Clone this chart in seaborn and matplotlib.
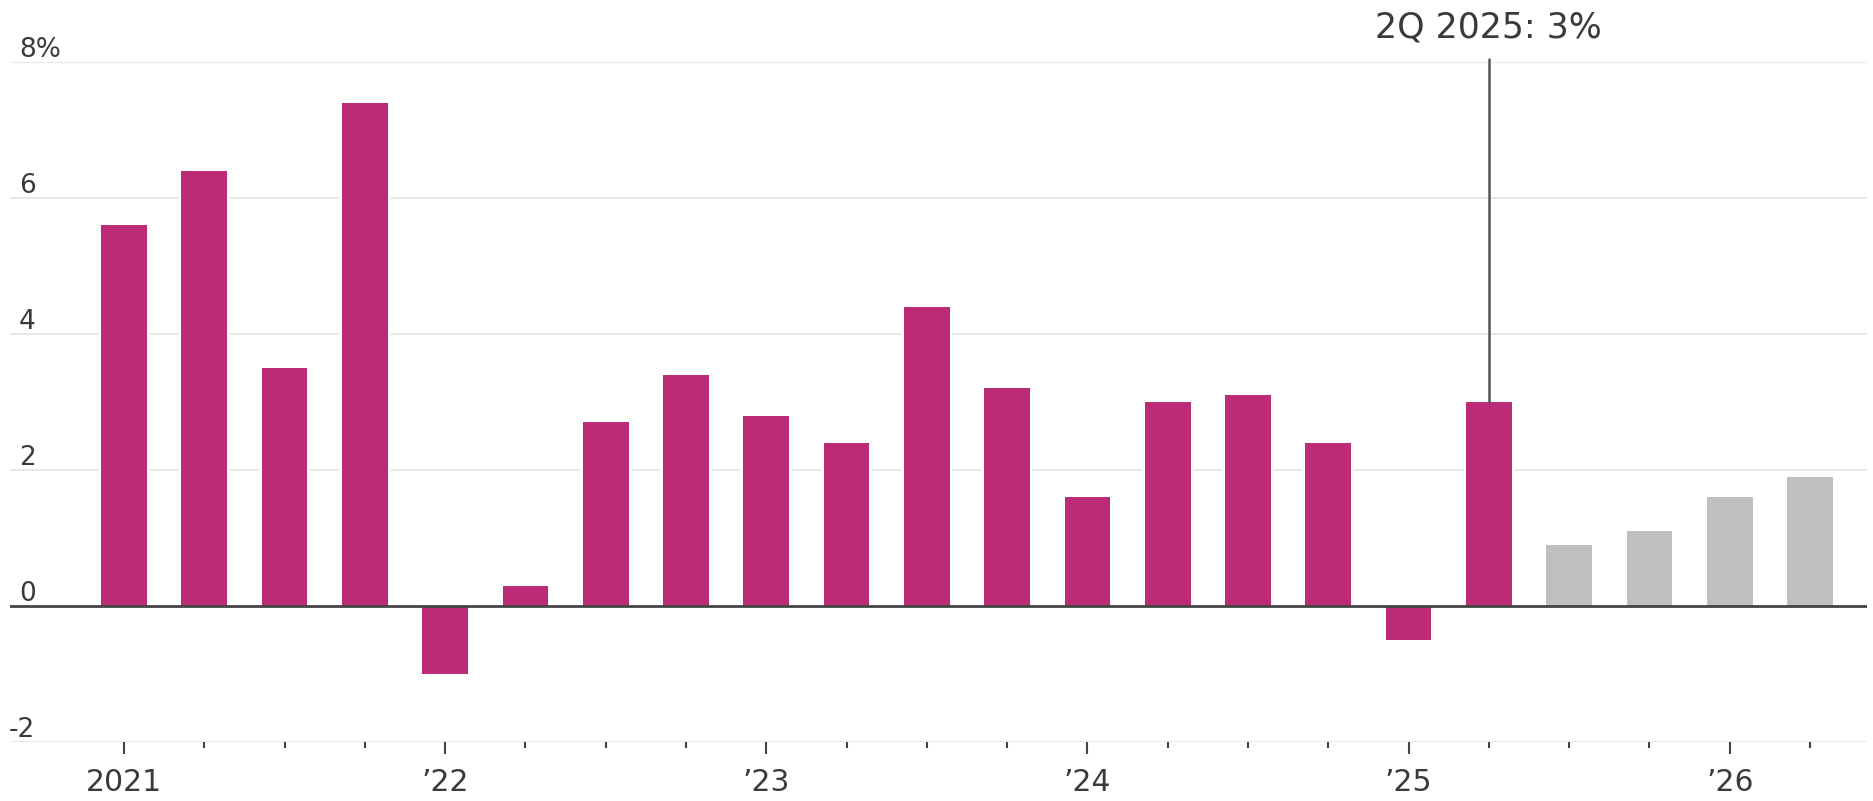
import matplotlib
matplotlib.use("Agg")
import matplotlib.pyplot as plt
import matplotlib.patheffects as pe
from matplotlib.transforms import blended_transform_factory, offset_copy
import seaborn as sns
import pandas as pd

# Real GDP growth, quarterly, seasonally adjusted annual rate (%)
quarters = ["1Q21", "2Q21", "3Q21", "4Q21",
            "1Q22", "2Q22", "3Q22", "4Q22",
            "1Q23", "2Q23", "3Q23", "4Q23",
            "1Q24", "2Q24", "3Q24", "4Q24",
            "1Q25", "2Q25", "3Q25", "4Q25",
            "1Q26", "2Q26"]
gdp_actual = [5.6, 6.4, 3.5, 7.4,
              -1.0, 0.3, 2.7, 3.4,
              2.8, 2.4, 4.4, 3.2,
              1.6, 3.0, 3.1, 2.4,
              -0.5, 3.0]
gdp_forecast = [0.9, 1.1, 1.6, 1.9]

year_labels = ["2021", "\u201922", "\u201923", "\u201924", "\u201925", "\u201926"]
y_ticks = [-2, 0, 2, 4, 6, 8]
y_tick_labels = ["-2", "0", "2", "4", "6", "8%"]
callout_quarter = "2Q25"
callout_text = "2Q 2025: 3%"

df = pd.DataFrame({
    "quarter": quarters,
    "growth": gdp_actual + gdp_forecast,
    "kind": ["Actual"] * len(gdp_actual) + ["Forecast"] * len(gdp_forecast),
})

sns.set_theme(style="white")
plt.rcParams["font.family"] = ["DejaVu Sans"]

W, H = 1874, 801
fig = plt.figure(figsize=(W / 100, H / 100), dpi=100)
ax = fig.add_axes([10 / W, 1 - 742 / H, (1867 - 10) / W, 680 / H])

sns.barplot(data=df, x="quarter", y="growth", hue="kind", order=quarters,
            palette={"Actual": "#BB2B76", "Forecast": "#BFBFBF"},
            saturation=1, dodge=False, width=0.57, linewidth=0,
            errorbar=None, legend=False, ax=ax)

# thin white halo so gridlines stop short of each bar
for bar in ax.patches:
    bar.set_path_effects([pe.Stroke(linewidth=4, foreground="white"), pe.Normal()])

ax.set_ylim(-2, 8)
ax.set_xlim(-1.42, 21.71)
for s in ax.spines.values():
    s.set_visible(False)

# horizontal grid and baseline
for y in y_ticks:
    if y == 0:
        ax.axhline(y, color="#444444", lw=2.0, zorder=3)
    else:
        ax.axhline(y, color="#e8e8e8", lw=1.5, zorder=0.5)

# y labels sit just above their gridlines
ax.set_yticks([])
ax.set_ylabel("")
ax.set_xlabel("")
ytrans = offset_copy(blended_transform_factory(fig.transFigure, ax.transData),
                     fig=fig, y=5, units="dots")
for y, lab in zip(y_ticks, y_tick_labels):
    x_px = 9 if y < 0 else 19
    ax.text(x_px / W, y, lab, transform=ytrans, ha="left", va="baseline",
            fontsize=19, color="#3a3a3a")

# quarterly ticks, longer at the start of each year
major_pos = [i for i in range(len(quarters)) if i % 4 == 0]
minor_pos = [i for i in range(len(quarters)) if i % 4 != 0]
ax.set_xticks(major_pos)
ax.set_xticklabels(year_labels)
ax.set_xticks(minor_pos, minor=True)
ax.tick_params(axis="x", which="major", bottom=True, length=8.6, width=1.5,
               color="#444444", pad=10, labelsize=21.5, labelcolor="#3a3a3a")
ax.tick_params(axis="x", which="minor", bottom=True, length=4.3, width=1.5,
               color="#444444")

# callout on the latest actual quarter
ci = quarters.index(callout_quarter)
cval = df.loc[ci, "growth"]
ax.plot([ci, ci], [cval, 8.05], color="#555555", lw=1.8, zorder=4, clip_on=False)
ax.annotate(callout_text, xy=(ci, 8), xytext=(0, 24.5 * 0.72),
            textcoords="offset points", ha="center", va="baseline",
            fontsize=25, color="#3a3a3a", annotation_clip=False)

fig.savefig("out.png", dpi=100)
